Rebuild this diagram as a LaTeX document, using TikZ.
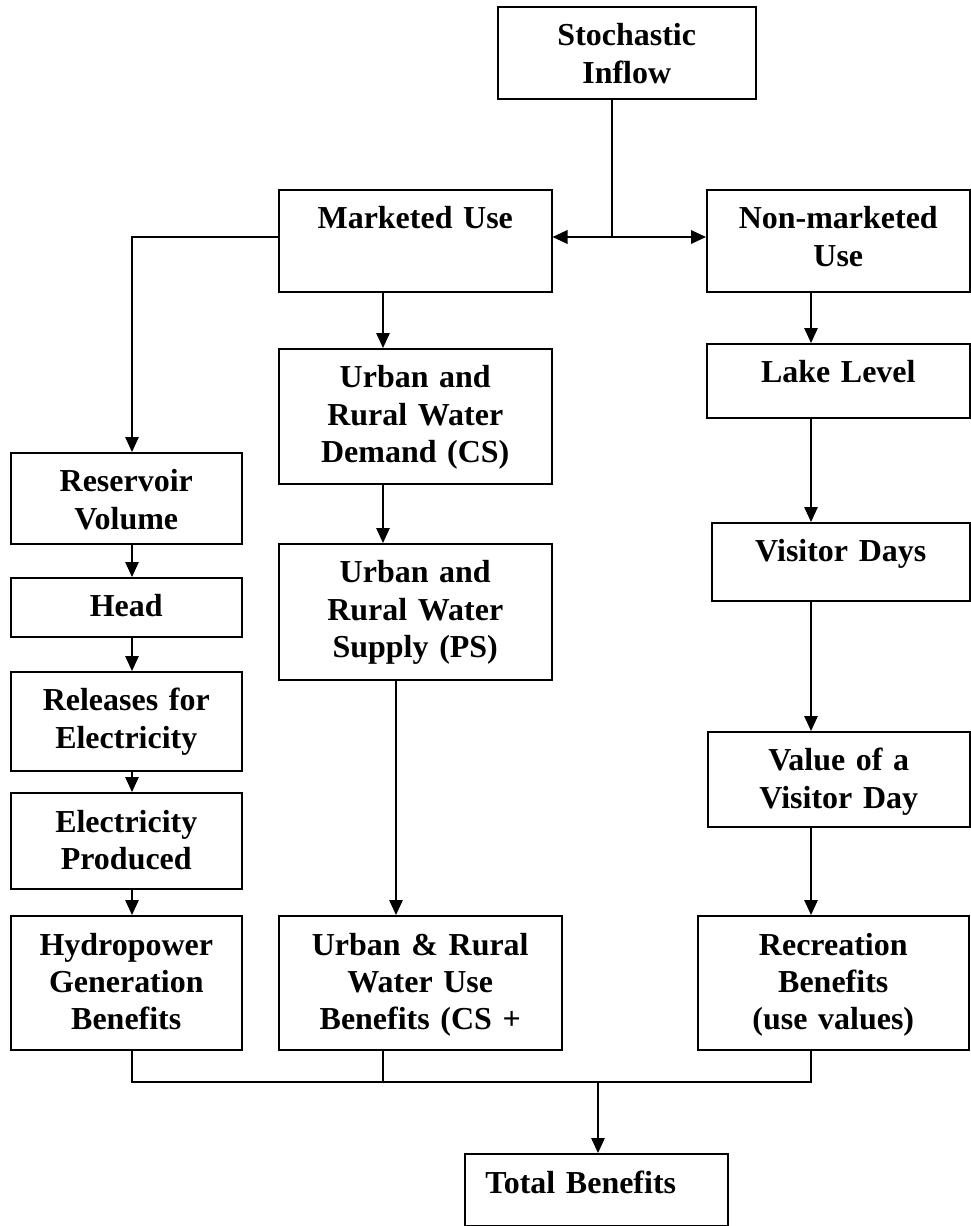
\documentclass[tikz,border=0pt]{standalone}
\usepackage{fontspec}
\setmainfont{Liberation Serif}
\usetikzlibrary{arrows.meta}

\begin{document}
\begin{tikzpicture}[x=0.02cm,y=-0.02cm,
        blk/.style={draw, line width=0.9pt, anchor=north west, inner sep=0pt},
        txt/.style={anchor=base, yshift=-0.8cm, text width=5.6cm, align=center, inner sep=0pt,
            font=\fontsize{18.2}{21.3}\selectfont\bfseries},
        ln/.style={line width=0.7pt},
        arr/.style={ln, -{Triangle[width=0.27cm,length=0.3cm]}}]
        \useasboundingbox (0,0) rectangle (970,1226);

        \node[blk, minimum width=5.16cm, minimum height=1.84cm, label={[txt]north:{Stochastic\\Inflow}}] (inflow) at (497,6) {};
        \node[blk, minimum width=5.46cm, minimum height=2.04cm, label={[txt]north:{Marketed Use}}] (mkt) at (278,189) {};
        \node[blk, minimum width=5.26cm, minimum height=2.04cm, label={[txt]north:{Non-marketed\\Use}}] (nonmkt) at (706,189) {};

        \node[blk, minimum width=5.46cm, minimum height=2.70cm, label={[txt]north:{Urban and\\Rural Water\\Demand (CS)}}] (dem) at (278,348) {};
        \node[blk, minimum width=5.46cm, minimum height=2.72cm, label={[txt]north:{Urban and\\Rural Water\\Supply (PS)}}] (sup) at (278,543) {};
        \node[blk, minimum width=5.66cm, minimum height=2.68cm, label={[txt]north:{Urban \& Rural\\Water Use\\Benefits (CS +}}] (use) at (278,915) {};

        \node[blk, minimum width=4.62cm, minimum height=1.82cm, label={[txt]north:{Reservoir\\Volume}}] (res) at (10,452) {};
        \node[blk, minimum width=4.62cm, minimum height=1.18cm, label={[txt]north:{Head}}] (head) at (10,577) {};
        \node[blk, minimum width=4.62cm, minimum height=1.98cm, label={[txt]north:{Releases for\\Electricity}}] (rel) at (10,671) {};
        \node[blk, minimum width=4.62cm, minimum height=1.92cm, label={[txt]north:{Electricity\\Produced}}] (elec) at (10,792) {};
        \node[blk, minimum width=4.62cm, minimum height=2.68cm, label={[txt]north:{Hydropower\\Generation\\Benefits}}] (hydro) at (10,915) {};

        \node[blk, minimum width=5.26cm, minimum height=1.48cm, label={[txt]north:{Lake Level}}] (lake) at (706,343) {};
        \node[blk, minimum width=5.16cm, minimum height=1.56cm, label={[txt]north:{Visitor Days}}] (vis) at (711,522) {};
        \node[blk, minimum width=5.24cm, minimum height=1.90cm, label={[txt]north:{Value of a\\Visitor Day}}] (val) at (707,731) {};
        \node[blk, minimum width=5.42cm, minimum height=2.68cm, label={[txt]north:{Recreation\\Benefits\\(use values)}}] (rec) at (697,915) {};

        \node[blk, minimum width=5.26cm, minimum height=1.44cm, label={[txt, xshift=-0.31cm]north:{Total Benefits}}] (tot) at (464,1153) {};

        \coordinate (jn) at (612,237);
        \coordinate (cl) at (132,0);
        \coordinate (cm) at (383,0);
        \coordinate (cs) at (396,0);
        \coordinate (cr) at (811,0);
        \coordinate (ct) at (598,1082);

        \draw[ln] (inflow.south -| jn) -- (jn);
        \draw[arr, line width=1.1pt] (jn) -- (jn -| mkt.east);
        \draw[arr, line width=1.1pt] (jn) -- (jn -| nonmkt.west);

        \draw[arr] (jn -| mkt.west) -| (res.north -| cl);
        \draw[arr] (res.south -| cl) -- (head.north -| cl);
        \draw[arr] (head.south -| cl) -- (rel.north -| cl);
        \draw[arr] (rel.south -| cl) -- (elec.north -| cl);
        \draw[arr] (elec.south -| cl) -- (hydro.north -| cl);

        \draw[arr] (mkt.south -| cm) -- (dem.north -| cm);
        \draw[arr] (dem.south -| cm) -- (sup.north -| cm);
        \draw[arr] (sup.south -| cs) -- (use.north -| cs);

        \draw[arr] (nonmkt.south -| cr) -- (lake.north -| cr);
        \draw[arr] (lake.south -| cr) -- (vis.north -| cr);
        \draw[arr] (vis.south -| cr) -- (val.north -| cr);
        \draw[arr] (val.south -| cr) -- (rec.north -| cr);

        \draw[ln, line width=1.1pt] (hydro.south -| cl) -- (cl |- ct) -- (ct -| cr) -- (rec.south -| cr);
        \draw[ln] (use.south -| cm) -- (cm |- ct);
        \draw[arr] (ct) -- (tot.north -| ct);
    \end{tikzpicture}
\end{document}
